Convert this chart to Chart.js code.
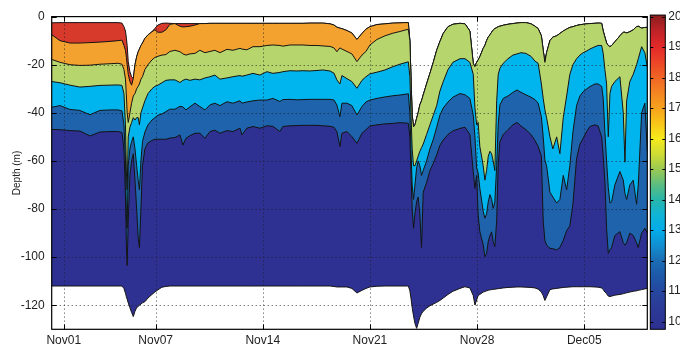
<!DOCTYPE html>
<html>
<head>
<meta charset="utf-8">
<script src="https://cdn.jsdelivr.net/npm/chart.js@4.4.1/dist/chart.umd.min.js"></script>
<style>
 html, body {margin:0; padding:0; background:#ffffff;}
 canvas     {display:block;}
</style>
</head>
<body>
<canvas id="chart" width="680" height="346"></canvas>
<script>
// -----------------------------------------------------------------------------------------------//
//                                      D A T A                                                   //
// -----------------------------------------------------------------------------------------------//

// TIME, DAYS SINCE NOV01 00:00
var days = [
 -0.79, -0.25, 0.40, 1.05, 1.71, 2.36, 3.02, 3.54, 3.80, 3.93,
 4.03, 4.09, 4.14, 4.21, 4.32, 4.43, 4.54, 4.65, 4.76, 4.86,
 4.94, 5.04, 5.14, 5.30, 5.50, 5.76, 5.95, 6.15, 6.41, 6.67,
 6.93, 7.26, 7.59, 7.78, 7.98, 8.24, 8.57, 8.89, 9.22, 9.55,
 9.87, 10.20, 10.66, 11.05, 11.51, 11.64, 11.96, 12.36, 12.81, 13.27,
 13.66, 14.12, 14.31, 14.77, 15.23, 15.62, 16.08, 16.54, 16.93, 17.39,
 17.65, 17.84, 18.04, 18.17, 18.50, 18.82, 19.15, 19.48, 19.74, 20.00,
 20.46, 20.98, 21.50, 21.96, 22.29, 22.51, 22.61, 22.68, 22.76, 22.85,
 22.94, 23.05, 23.15, 23.26, 23.37, 23.48, 23.70, 23.92, 24.14, 24.36,
 24.57, 24.79, 25.10, 25.42, 25.88, 26.21, 26.53, 26.75, 26.86, 26.97,
 27.07, 27.18, 27.40, 27.51, 27.62, 27.73, 27.84, 27.95, 28.05, 28.16,
 28.28, 28.38, 28.49, 28.71, 29.02, 29.34, 29.61, 29.87, 30.19, 30.52,
 30.78, 30.99, 31.20, 31.32, 31.43, 31.54, 31.76, 31.95, 32.20, 32.41,
 32.63, 32.85, 33.06, 33.26, 33.50, 33.72, 33.93, 34.18, 34.37, 34.70,
 34.91, 35.14, 35.24, 35.35, 35.46, 35.57, 35.68, 35.79, 36.00, 36.33,
 36.55, 36.66, 36.77, 36.98, 37.20, 37.42, 37.53, 37.75, 37.96, 38.12
];

// TOP OF THE MEASURED COLUMN (m)
var surface = [
 -2.6, -2.5, -2.5, -2.5, -2.5, -2.5, -2.5, -2.5, -2.7, -4.2,
 -6.0, -9.0, -12.0, -18.7, -22.9, -25.0, -25.7, -20.0, -16.7, -14.6,
 -13.5, -12.0, -11.0, -9.0, -7.6, -6.3, -4.9, -3.5, -2.8, -2.7,
 -2.8, -2.9, -2.9, -2.9, -2.9, -2.9, -2.9, -2.9, -2.9, -2.8,
 -2.8, -2.8, -2.8, -2.8, -2.8, -2.8, -2.8, -2.8, -2.8, -2.8,
 -2.8, -2.8, -2.8, -2.8, -2.8, -2.8, -2.7, -2.7, -2.7, -3.0,
 -3.5, -4.4, -4.8, -5.0, -5.8, -6.8, -9.5, -7.0, -5.2, -4.2,
 -3.3, -3.0, -2.7, -2.6, -2.5, -2.5, -10.0, -25.0, -41.0, -45.8,
 -45.0, -42.3, -40.0, -36.7, -35.0, -32.6, -28.0, -23.6, -19.0, -14.0,
 -10.4, -7.0, -4.2, -3.2, -2.8, -3.0, -6.0, -19.5, -20.8, -19.0,
 -18.0, -16.7, -13.2, -12.0, -10.0, -8.5, -7.6, -6.5, -5.6, -5.0,
 -4.6, -4.2, -4.0, -3.6, -3.2, -2.9, -2.7, -2.5, -2.5, -3.0,
 -4.0, -5.0, -8.0, -14.0, -19.0, -15.0, -10.0, -8.5, -8.0, -7.0,
 -6.0, -5.2, -4.5, -4.2, -3.7, -3.4, -3.2, -3.0, -2.9, -2.8,
 -2.7, -2.8, -6.0, -8.5, -11.0, -12.0, -12.5, -12.0, -10.5, -8.0,
 -6.5, -6.5, -6.8, -6.3, -5.5, -4.2, -4.0, -4.8, -4.5, -4.5
];

// RED / ORANGE BOUNDARY (m), null WHERE IT LIES AT THE SURFACE
var iso_red = [
 -7.5, -10.0, -11.0, -11.0, -10.8, -10.6, -10.3, -10.0, -9.8, -12.0,
 -14.0, -17.0, -20.0, -24.0, -27.0, -28.5, null, null, null, null,
 null, null, null, null, null, null, -5.5, -6.5, -6.5, -5.5,
 -3.2, null, -4.0, -4.3, -4.2, -4.0, -3.5, null, null, null,
 null, null, null, null, null, null, null, null, null, null,
 null, null, null, null, null, null, null, null, null, null,
 null, null, null, null, null, null, null, null, null, null,
 null, null, null, null, null, null, null, null, null, null,
 null, null, null, null, null, null, null, null, null, null,
 null, null, null, null, null, null, null, null, null, null,
 null, null, null, null, null, null, null, null, null, null,
 null, null, null, null, null, null, null, null, null, null,
 null, null, null, null, null, null, null, null, null, null,
 null, null, null, null, null, null, null, null, null, null,
 null, null, null, null, null, null, null, null, null, null,
 null, null, null, null, null, null, null, null, null, null
];

// ORANGE / GREEN BOUNDARY (m), null WHERE IT LIES AT THE SURFACE
var iso_orange = [
 -17.8, -19.0, -20.0, -20.3, -20.2, -19.8, -19.6, -19.4, -19.8, -22.0,
 -26.0, -33.0, -40.0, -44.0, -40.0, -36.0, -33.0, -32.0, -30.0, -29.0,
 -28.0, -26.0, -25.0, -22.0, -20.0, -18.0, -17.0, -16.5, -16.0, -15.8,
 -14.5, -14.0, -14.6, -15.5, -16.0, -15.5, -15.3, -14.0, -15.0, -14.5,
 -14.0, -15.0, -13.6, -14.0, -13.2, -13.5, -13.8, -12.5, -12.5, -12.0,
 -11.8, -12.0, -12.3, -11.8, -11.8, -11.8, -12.0, -12.0, -12.2, -12.4,
 -13.0, -14.6, -13.0, -13.5, -14.5, -15.5, -18.7, -16.0, -14.5, -11.8,
 -9.5, -8.0, -6.9, -6.2, -5.6, -5.3, null, null, null, null,
 null, null, null, null, null, null, null, null, null, null,
 null, null, null, null, null, null, null, null, null, null,
 null, null, null, null, null, null, null, null, null, null,
 null, null, null, null, null, null, null, null, null, null,
 null, null, null, null, null, null, null, null, null, null,
 null, null, null, null, null, null, null, null, null, null,
 null, null, null, null, null, null, null, null, null, null,
 null, null, null, null, null, null, null, null, null, null
];

// GREEN / CYAN BOUNDARY (m)
var iso_green = [
 -27.0, -27.5, -28.5, -29.3, -29.0, -28.6, -28.5, -28.4, -28.6, -32.0,
 -45.0, -65.0, -72.0, -50.0, -46.0, -44.0, -42.0, -43.0, -42.0, -42.0,
 -45.0, -40.0, -38.0, -35.0, -32.0, -30.0, -29.0, -28.5, -27.5, -26.5,
 -26.3, -26.3, -27.4, -26.5, -26.0, -26.5, -26.0, -26.3, -25.5, -25.0,
 -24.3, -26.0, -25.5, -25.0, -24.5, -24.8, -24.3, -23.6, -24.3, -22.9,
 -23.6, -23.2, -22.9, -22.5, -22.6, -22.5, -22.6, -22.4, -22.2, -22.6,
 -23.5, -26.3, -28.0, -24.5, -25.8, -27.0, -29.8, -26.5, -25.0, -23.8,
 -23.1, -22.2, -20.8, -19.8, -19.2, -18.8, -25.0, -40.0, -55.0, -62.0,
 -62.0, -60.0, -58.0, -56.0, -54.5, -53.0, -49.0, -45.0, -41.0, -37.0,
 -31.0, -27.0, -22.0, -19.0, -17.5, -17.5, -19.0, -24.0, -38.0, -45.0,
 -44.0, -54.0, -62.0, -68.0, -64.0, -58.0, -56.0, -57.0, -60.0, -64.0,
 -35.0, -24.0, -21.5, -19.4, -17.5, -16.0, -15.5, -15.0, -15.3, -16.5,
 -18.5, -19.4, -28.0, -34.0, -38.8, -42.0, -50.0, -55.0, -50.0, -57.0,
 -42.0, -33.0, -24.0, -20.0, -17.5, -16.0, -15.0, -14.2, -13.5, -12.5,
 -12.0, -12.0, -15.3, -22.0, -28.0, -50.0, -31.9, -29.0, -27.0, -25.0,
 -40.0, -60.5, -35.0, -27.0, -24.0, -20.0, -17.5, -12.5, -15.0, -21.0
];

// CYAN / BLUE BOUNDARY (m)
var iso_cyan = [
 -37.7, -37.0, -38.6, -39.0, -40.8, -39.0, -38.8, -38.8, -39.2, -45.0,
 -60.0, -82.0, -88.0, -62.0, -55.0, -52.0, -50.0, -55.0, -62.0, -68.0,
 -72.0, -60.0, -52.0, -48.0, -45.0, -43.0, -42.0, -41.0, -40.5, -39.5,
 -38.5, -38.5, -37.3, -37.5, -38.8, -37.5, -36.0, -37.4, -38.8, -36.7,
 -36.0, -37.0, -35.4, -36.0, -35.0, -36.0, -35.5, -35.0, -34.7, -34.7,
 -34.0, -35.3, -34.5, -34.4, -34.6, -34.5, -34.4, -34.4, -34.4, -34.4,
 -34.7, -36.7, -41.6, -36.0, -36.0, -37.0, -40.9, -37.4, -35.5, -34.7,
 -34.0, -33.4, -32.9, -32.6, -32.3, -32.1, -40.0, -55.0, -70.0, -76.0,
 -70.0, -63.0, -60.0, -62.0, -66.0, -64.0, -60.0, -55.0, -51.0, -46.0,
 -41.0, -38.0, -35.5, -33.5, -32.0, -32.5, -34.0, -41.0, -50.0, -63.0,
 -65.0, -71.4, -81.0, -83.8, -82.0, -77.0, -74.0, -76.0, -79.7, -77.0,
 -62.0, -45.0, -36.7, -34.0, -33.0, -31.5, -30.5, -31.5, -32.5, -33.5,
 -34.5, -36.0, -41.6, -50.0, -59.6, -62.0, -73.0, -75.0, -77.5, -76.0,
 -66.0, -72.0, -62.0, -48.0, -37.0, -33.0, -31.2, -30.0, -29.1, -28.0,
 -28.0, -29.0, -34.0, -48.0, -60.0, -71.0, -77.5, -77.0, -70.0, -64.4,
 -68.0, -73.5, -76.0, -70.0, -68.0, -78.0, -70.0, -40.0, -36.0, -56.0
];

// BLUE / NAVY BOUNDARY (m)
var iso_blue = [
 -46.9, -47.0, -47.4, -47.6, -49.6, -48.0, -47.8, -47.8, -48.2, -55.0,
 -75.0, -95.0, -103.5, -85.0, -66.0, -60.0, -57.0, -68.0, -80.0, -92.0,
 -96.0, -80.0, -62.0, -55.0, -52.5, -51.5, -51.0, -51.0, -51.0, -51.0,
 -50.5, -50.3, -49.2, -53.4, -50.6, -49.5, -48.5, -48.5, -50.6, -47.8,
 -47.2, -48.5, -47.4, -47.8, -46.4, -49.2, -46.4, -45.7, -46.4, -45.4,
 -45.6, -47.8, -45.7, -45.4, -45.3, -45.2, -45.2, -45.2, -45.4, -45.6,
 -46.0, -47.8, -54.0, -48.5, -47.8, -49.9, -52.7, -48.5, -47.0, -45.5,
 -45.0, -44.6, -44.4, -44.1, -44.2, -44.4, -50.0, -65.0, -80.0, -88.0,
 -82.0, -77.0, -75.0, -82.0, -96.0, -73.0, -69.0, -64.0, -61.0, -57.5,
 -53.5, -51.3, -49.0, -47.5, -46.5, -46.0, -49.0, -64.4, -71.4, -66.0,
 -82.5, -89.4, -94.9, -99.8, -98.5, -93.5, -91.0, -89.5, -93.5, -95.6,
 -85.0, -61.7, -52.0, -49.0, -47.0, -45.0, -44.0, -45.5, -47.0, -49.0,
 -51.5, -54.0, -58.0, -85.0, -93.0, -95.0, -96.3, -96.5, -97.0, -96.0,
 -93.0, -89.0, -87.0, -78.0, -59.0, -53.0, -50.6, -47.5, -45.7, -45.0,
 -45.5, -50.0, -58.0, -68.6, -88.0, -98.4, -97.0, -96.0, -91.0, -89.4,
 -94.0, -95.0, -94.0, -90.0, -91.0, -94.0, -96.0, -90.0, -88.0, -90.0
];

// BOTTOM OF THE MEASURED COLUMN (m)
var seabed = [
 -112, -112, -112, -112, -112, -112, -112, -112, -112, -113,
 -115, -116.5, -117.5, -119, -121, -123, -124.7, -122.5, -121, -120.5,
 -120, -119.5, -119, -118.5, -117, -115.5, -114.5, -113.6, -112.5, -112.2,
 -112, -112, -112, -112, -112, -112, -112, -112, -112, -112,
 -112, -112, -112, -112, -112, -112, -112, -112, -112, -112,
 -112, -112, -112, -112, -112, -112, -112, -112, -112, -112,
 -112.2, -112.4, -112.4, -112.4, -112.4, -113, -114.9, -113.8, -113, -112.4,
 -112.1, -112, -112, -112, -112, -112, -114, -117, -121, -124.5,
 -127.5, -129.6, -127.5, -125, -123.5, -122.5, -121.2, -120.2, -119.5, -118.8,
 -118, -117, -115.5, -114.2, -113, -112.3, -112.8, -116, -119.9, -117.8,
 -116, -115.5, -114.5, -114.3, -114, -113.8, -113.6, -113.5, -113.4, -113.3,
 -113.2, -113.1, -113, -112.8, -112.6, -112.5, -112.4, -112.4, -112.5, -112.6,
 -112.8, -113.3, -114.5, -116, -118, -116.5, -113.5, -113.2, -113, -112.8,
 -112.6, -112.5, -112.4, -112.3, -112.3, -112.3, -112.3, -112.3, -112.3, -112.4,
 -112.5, -112.8, -113.5, -114.5, -115.2, -116.2, -116.4, -116.2, -115.8, -115.5,
 -115.2, -115, -114.8, -114.5, -114.2, -114, -113.8, -113.5, -113.2, -113
];

// TICKS
var tick_days   = [0, 6, 13, 20, 27, 34];
var tick_labels = ["Nov01", "Nov07", "Nov14", "Nov21", "Nov28", "Dec05"];
var depth_ticks = [-120, -100, -80, -60, -40, -20, 0];
var temp_ticks  = [10, 11, 12, 13, 14, 15, 16, 17, 18, 19, 20];


// -----------------------------------------------------------------------------------------------//
//                                    S T Y L E                                                   //
// -----------------------------------------------------------------------------------------------//

var band_colors = ["#d7392b", "#f4a22f", "#b7d56d", "#00b4ed", "#1f63ad", "#2e3192"];

var colormap = [
 [9.75, "#2e3092"], [10.5, "#2c3b97"], [11.0, "#25479f"], [11.5, "#1d58a8"], [12.0, "#1a6db5"],
 [12.5, "#118fd0"], [13.0, "#03acea"], [13.5, "#10b4d6"], [14.0, "#27b6aa"], [14.5, "#5dbd80"],
 [15.0, "#9bc951"], [15.5, "#cfdc34"], [16.0, "#f6eb1b"], [16.5, "#f9c619"], [17.0, "#f7a21d"],
 [17.5, "#f48522"], [18.0, "#f06525"], [18.5, "#ec4527"], [19.0, "#e32929"], [19.5, "#c12328"],
 [20.05, "#8b1d1d"]
];

var font_family = '"Liberation Sans", Arial, Helvetica, sans-serif';
var text_color  = "#222222";




function Profile_Points(values, fallback)
{
 var points = [];
 for(var i = 0; i < days.length; i++)
 {
  var depth = values[i];
  if(depth === null) depth = fallback[i];

  points.push({x: days[i], y: depth});
 }

 return points;
}




function Profile_Layer(values, color, order)
{
 var layer                = {};
 layer["data"]            = Profile_Points(values, surface);
 layer["backgroundColor"] = color;
 layer["borderColor"]     = "#141414";
 layer["borderWidth"]     = 1;
 layer["fill"]            = "start";
 layer["pointRadius"]     = 0;
 layer["tension"]         = 0;
 layer["order"]           = order;

 return layer;
}




var Depth_Frame =
{
 id: "depth_frame",

 afterDatasetsDraw: function(chart)
 {
  var ctx  = chart.ctx;
  var area = chart.chartArea;
  var sx   = chart.scales.x;
  var sy   = chart.scales.y;

  ctx.save();

  // DOTTED GRID
  ctx.lineWidth   = 1;
  ctx.strokeStyle = "rgba(25,25,25,0.8)";
  ctx.setLineDash([1, 3]);
  ctx.beginPath();
  for(var d of tick_days)
  {
   var px = Math.round(sx.getPixelForValue(d)) + 0.5;
   ctx.moveTo(px, area.top);
   ctx.lineTo(px, area.bottom);
  }
  for(var v of depth_ticks)
  {
   if(v == 0) continue;
   var py = Math.round(sy.getPixelForValue(v)) + 0.5;
   ctx.moveTo(area.left, py);
   ctx.lineTo(area.right, py);
  }
  ctx.stroke();
  ctx.setLineDash([]);

  // INWARD TICKS
  ctx.strokeStyle = "#000000";
  ctx.beginPath();
  for(var d of tick_days)
  {
   var px = Math.round(sx.getPixelForValue(d)) + 0.5;
   ctx.moveTo(px, area.bottom);
   ctx.lineTo(px, area.bottom - 5);
   ctx.moveTo(px, area.top);
   ctx.lineTo(px, area.top + 5);
  }
  for(var v of depth_ticks)
  {
   var py = Math.round(sy.getPixelForValue(v)) + 0.5;
   ctx.moveTo(area.left, py);
   ctx.lineTo(area.left + 5, py);
   ctx.moveTo(area.right, py);
   ctx.lineTo(area.right - 5, py);
  }
  ctx.stroke();

  // BOX
  ctx.lineWidth = 1.2;
  ctx.strokeRect(area.left, area.top, area.right - area.left, area.bottom - area.top);

  ctx.restore();
 },

 afterDraw: function(chart)
 {
  var ctx  = chart.ctx;
  var area = chart.chartArea;
  var cb   = chart.scales.cb;

  ctx.save();

  // COLORBAR
  var low    = colormap[0][0];
  var high   = colormap[colormap.length - 1][0];
  var left   = area.right + 3;
  var width  = 15;
  var top    = cb.getPixelForValue(high);
  var bottom = cb.getPixelForValue(low);

  var gradient = ctx.createLinearGradient(0, bottom, 0, top);
  for(var stop of colormap) gradient.addColorStop((stop[0] - low) / (high - low), stop[1]);

  ctx.fillStyle = gradient;
  ctx.fillRect(left, top, width, bottom - top);

  ctx.strokeStyle = "#000000";
  ctx.lineWidth   = 1;
  ctx.beginPath();
  for(var t of temp_ticks)
  {
   var py = Math.round(cb.getPixelForValue(t)) + 0.5;
   ctx.moveTo(left, py);
   ctx.lineTo(left + 3, py);
   ctx.moveTo(left + width, py);
   ctx.lineTo(left + width - 3, py);
  }
  ctx.stroke();
  ctx.strokeRect(left, top, width, bottom - top);

  // DEPTH TITLE
  ctx.fillStyle    = text_color;
  ctx.font         = "10px " + font_family;
  ctx.textAlign    = "center";
  ctx.textBaseline = "middle";
  ctx.translate(17, (area.top + area.bottom) / 2);
  ctx.rotate(-Math.PI / 2);
  ctx.fillText("Depth (m)", 0, 0);

  ctx.restore();
 }
};




// CHART CONFIG
var datasets =
[
 Profile_Layer(surface,    band_colors[0], 7),
 Profile_Layer(iso_red,    band_colors[1], 6),
 Profile_Layer(iso_orange, band_colors[2], 5),
 Profile_Layer(iso_green,  band_colors[3], 4),
 Profile_Layer(iso_cyan,   band_colors[4], 3),
 Profile_Layer(iso_blue,   band_colors[5], 2),
 Profile_Layer(seabed,     "#ffffff",      1)
];

var tick_font = {family: font_family, size: 12};

var config =
{
 type:    "line",
 data:    {datasets},
 plugins: [Depth_Frame],
 options:
 {
  responsive:       false,
  animation:        false,
  devicePixelRatio: 1,
  layout:           {padding: {top: 16.6, left: 0, right: 0, bottom: 0}},
  plugins:          {legend: {display: false}, tooltip: {enabled: false}},
  scales:
  {
   x:
   {
    type:            "linear",
    min:             days[0],
    max:             days[days.length - 1],
    grid:            {display: false, drawTicks: false},
    border:          {display: false},
    ticks:           {autoSkip: false, maxRotation: 0, padding: 4, color: text_color, font: tick_font, callback: function(value, index) { return tick_labels[index]; }},
    afterBuildTicks: function(scale) { scale.ticks = tick_days.map(function(v) { return {value: v}; }); },
    afterFit:        function(scale) { scale.height = 16.7; }
   },
   y:
   {
    type:            "linear",
    position:        "left",
    min:             -130,
    max:             0,
    grid:            {display: false, drawTicks: false},
    border:          {display: false},
    ticks:           {padding: 7, color: text_color, font: tick_font},
    afterBuildTicks: function(scale) { scale.ticks = depth_ticks.map(function(v) { return {value: v}; }); },
    afterFit:        function(scale) { scale.width = 51.7; }
   },
   cb:
   {
    type:            "linear",
    position:        "right",
    min:             9.75,
    max:             20,
    grid:            {display: false, drawTicks: true, tickLength: 21},
    border:          {display: false},
    ticks:           {padding: 0, color: text_color, font: tick_font},
    afterBuildTicks: function(scale) { scale.ticks = temp_ticks.map(function(v) { return {value: v}; }); },
    afterFit:        function(scale) { scale.width = 32.7; }
   }
  }
 }
};

var context = document.getElementById("chart").getContext("2d");
var chart   = new Chart(context, config);
</script>
</body>
</html>
